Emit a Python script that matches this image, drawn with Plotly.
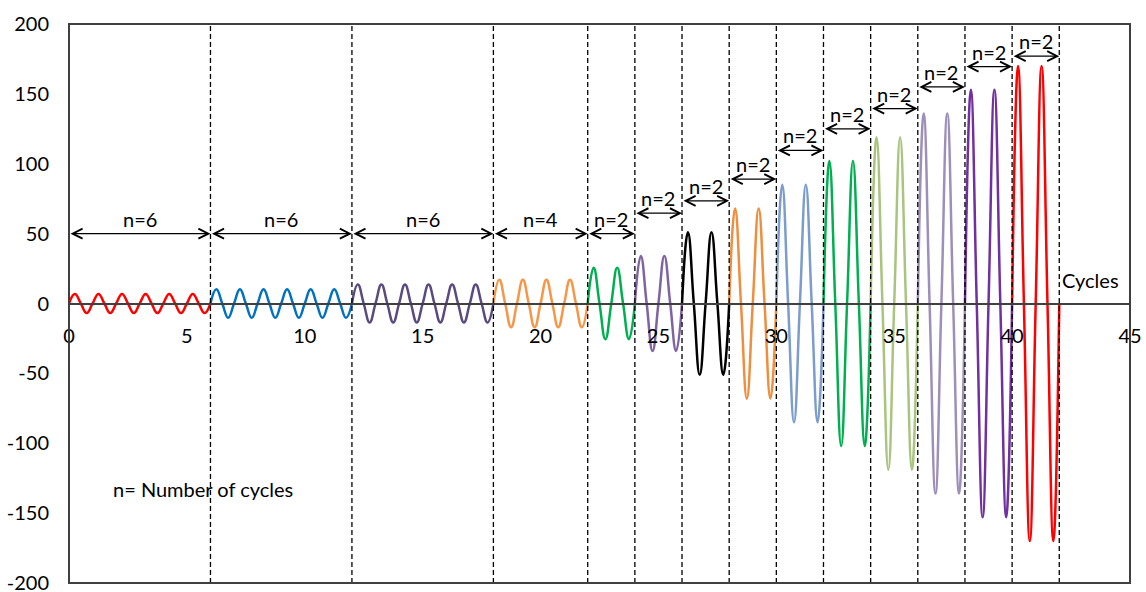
import plotly.graph_objects as go

# ---- data ----
seg_start = [0, 6, 12, 18, 22, 24, 26, 28, 30, 32, 34, 36, 38, 40]
seg_end = [6, 12, 18, 22, 24, 26, 28, 30, 32, 34, 36, 38, 40, 42]
n_cycles = [6, 6, 6, 4, 2, 2, 2, 2, 2, 2, 2, 2, 2, 2]
amplitude = [6.8, 10.2, 13.6, 17, 25.5, 34, 51, 68, 85, 102, 119, 136, 153, 170]
arrow_level = [50, 50, 50, 50, 50, 64.6, 73.5, 89, 109.5, 125, 139.5, 155, 169.5, 177]
seg_colors = ["#FF0000", "#0070C0", "#5B4A80", "#F79646", "#00B050", "#8064A2",
              "#000000", "#EE8E3F", "#7B9CCD", "#00B050", "#A9C47F", "#9E8FBA",
              "#7030A0", "#FF0000"]
x_ticks = [0, 5, 10, 15, 20, 25, 30, 35, 40, 45]
y_ticks = [-200, -150, -100, -50, 0, 50, 100, 150, 200]
quarter_pattern = [0, 1, 0, -1]   # sign of the wave at each quarter cycle

FONT = "Lato"
AX = "#404040"

fig = go.Figure()

for s, e, n, a, c in zip(seg_start, seg_end, n_cycles, amplitude, seg_colors):
    steps = 4 * n
    xs = [s + k * (e - s) / steps for k in range(steps + 1)]
    ys = [a * quarter_pattern[k % 4] for k in range(steps + 1)]
    fig.add_trace(go.Scatter(x=xs, y=ys, mode="lines",
                             line=dict(color=c, width=2.5, shape="spline", smoothing=1.3),
                             showlegend=False, hoverinfo="skip"))

shapes = []
for e in seg_end:
    shapes.append(dict(type="line", xref="x", yref="paper", x0=e, x1=e, y0=0, y1=1,
                       line=dict(color="black", width=1.3, dash="5px,3px"), layer="above"))
shapes.append(dict(type="rect", xref="paper", yref="paper", x0=0, x1=1, y0=0, y1=1,
                   line=dict(color=AX, width=2), layer="above"))

annotations = []
for s, e, n, lvl in zip(seg_start, seg_end, n_cycles, arrow_level):
    annotations.append(dict(x=e, y=lvl, ax=s, ay=lvl, xref="x", yref="y", axref="x", ayref="y",
                            text="", showarrow=True, arrowside="end+start",
                            arrowhead=5, startarrowhead=5, arrowsize=1.5, startarrowsize=1.5,
                            arrowwidth=1.3, arrowcolor="black", standoff=0, startstandoff=0))
    annotations.append(dict(x=(s + e) / 2, y=lvl, xref="x", yref="y", text=f"n={n}",
                            showarrow=False, yshift=15, yanchor="middle",
                            font=dict(family=FONT, size=20, color="black")))

annotations.append(dict(x=seg_end[-1], y=0, xref="x", yref="y", text="Cycles", showarrow=False,
                        xanchor="left", yanchor="middle", xshift=1, yshift=24,
                        font=dict(family=FONT, size=20, color="black")))
annotations.append(dict(x=1.78, y=-132.6, xref="x", yref="y", text="n= Number of cycles",
                        showarrow=False, xanchor="left", yanchor="middle",
                        font=dict(family=FONT, size=20, color="black")))

fig.update_layout(
    width=1146, height=592,
    margin=dict(l=69, r=16, t=24, b=9),
    paper_bgcolor="white", plot_bgcolor="white",
    font=dict(family=FONT, size=20, color="black"),
    shapes=shapes, annotations=annotations,
    xaxis=dict(range=[0, 45], tickvals=x_ticks, ticktext=[str(v) for v in x_ticks],
               anchor="free", position=0.5, showline=True, linecolor=AX, linewidth=2,
               showgrid=False, zeroline=False, ticks="outside", ticklen=14,
               tickcolor="rgba(0,0,0,0)", automargin=False,
               tickfont=dict(family=FONT, size=20, color="black")),
    yaxis=dict(range=[-200, 200], tickvals=y_ticks, ticktext=[str(v) for v in y_ticks],
               showgrid=False, zeroline=False, showline=False, ticks="outside", ticklen=15,
               tickcolor="rgba(0,0,0,0)", automargin=False, ticklabeloverflow="allow",
               tickfont=dict(family=FONT, size=20, color="black")),
)

fig.write_html("out.html", config={"displayModeBar": False},
               post_script="document.body.style.margin='0';document.body.style.overflow='hidden';")
